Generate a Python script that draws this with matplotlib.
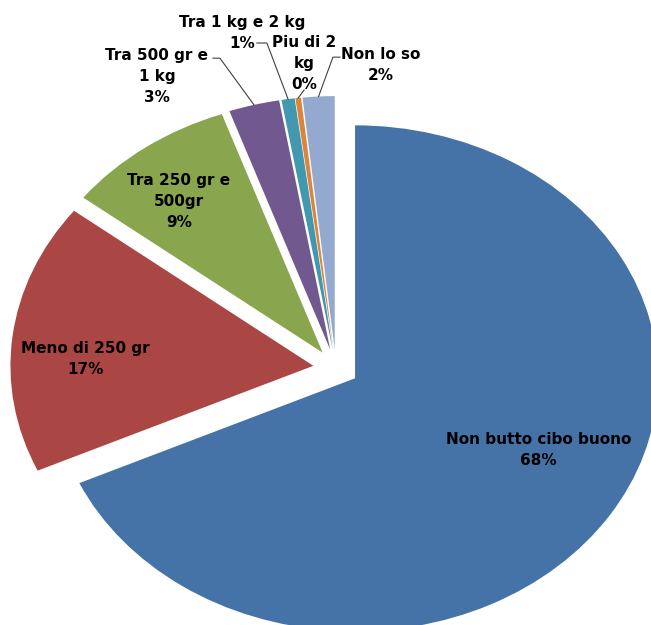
import numpy as np
import matplotlib.pyplot as plt

plt.rcParams['font.family'] = ['DejaVu Sans']

# quanto cibo buono si butta a settimana
labels = ['Non butto cibo buono', 'Meno di 250 gr', 'Tra 250 gr e\n500gr',
          'Tra 500 gr e\n1 kg', 'Tra 1 kg e 2 kg', 'Piu di 2\nkg', 'Non lo so']
values = [68.2, 17.3, 9.1, 2.7, 0.7, 0.3, 1.7]
colors = ['#4572A7', '#AA4643', '#89A54E', '#71588F', '#4198AF', '#DB843D', '#93A9CF']

# posizione delle etichette (centro del blocco di testo)
label_pos = [(0.668, -0.318), (-0.828, 0.043), (-0.518, 0.664), (-0.591, 1.158),
             (-0.310, 1.330), (-0.106, 1.209), (0.149, 1.204)]
# punti di partenza delle linee guida per le fette piccole (None = etichetta interna)
leader_start = [None, None, None,
                [(-0.406, 1.225), (-0.383, 1.225)],
                [(-0.261, 1.285), (-0.228, 1.285)],
                [(-0.105, 1.099)],
                [(0.013, 1.229), (-0.010, 1.229)]]
line_step = 0.083  # distanza fra le righe di un'etichetta

fig = plt.figure(figsize=(6.51, 6.25), dpi=100)
ax = fig.add_axes([0, 0, 1, 1])

wedges, _ = ax.pie(values, colors=colors, startangle=90, counterclock=False,
                   explode=[0.075] * len(values), radius=1,
                   wedgeprops=dict(linewidth=0))
ax.set_aspect('auto')
ax.set_xlim(-1.109, 1.040)
ax.set_ylim(-1.016, 1.455)
ax.axis('off')

for w, lab, v, pos, ls in zip(wedges, labels, values, label_pos, leader_start):
    rows = ('%s\n%.0f%%' % (lab, v)).split('\n')
    n = len(rows)
    for i, row in enumerate(rows):
        y = pos[1] + ((n - 1) / 2 - i) * line_step
        ax.text(pos[0], y, row, ha='center', va='center_baseline',
                fontsize=11, fontweight='bold', color='black')
    if ls is not None:
        # linea guida fino al bordo della fetta, a metà angolo
        tm = np.deg2rad((w.theta1 + w.theta2) / 2)
        cx, cy = w.center
        end = (cx + w.r * np.cos(tm), cy + w.r * np.sin(tm))
        pts = ls + [end]
        ax.plot([p[0] for p in pts], [p[1] for p in pts], color='#404040', lw=0.8)

fig.savefig('out.png', dpi=100)
